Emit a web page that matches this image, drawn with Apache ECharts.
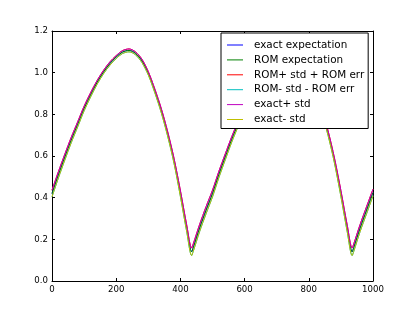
<!DOCTYPE html>
<html>
<head>
<meta charset="utf-8">
<script src="https://cdn.jsdelivr.net/npm/echarts@6/dist/echarts.min.js"></script>
<style>
html,body{margin:0;padding:0;background:#fff;}
#chart{width:415px;height:312px;}
</style>
</head>
<body>
<div id="chart"></div>
<script>
// ---- data ----
const xValues = [0,20,40,60,80,100,120,140,160,180,200,220,240,260,280,300,320,340,360,380,400,420,435,440,460,480,
                 500,520,540,560,580,600,620,640,660,680,700,720,740,760,780,800,820,840,860,880,900,920,935,940,960,980,1000];
const exactMean = [0.420,0.510,0.595,0.677,0.752,0.828,0.893,0.952,1.002,1.043,1.075,1.099,1.107,1.093,1.057,0.997,0.914,0.820,0.708,0.578,0.420,0.250,0.140,0.160,0.255,0.340,
                   0.420,0.512,0.597,0.680,0.755,0.828,0.893,0.951,1.001,1.042,1.074,1.098,1.107,1.094,1.058,0.996,0.914,0.818,0.710,0.578,0.420,0.250,0.140,0.160,0.255,0.340,0.425];
const romMean = [0.420,0.510,0.595,0.677,0.752,0.828,0.893,0.952,1.002,1.043,1.075,1.099,1.107,1.093,1.057,0.997,0.914,0.820,0.708,0.578,0.420,0.250,0.140,0.160,0.255,0.340,
                 0.420,0.512,0.597,0.680,0.755,0.828,0.893,0.951,1.001,1.042,1.074,1.098,1.107,1.094,1.058,0.996,0.914,0.818,0.710,0.578,0.420,0.250,0.140,0.160,0.255,0.340,0.425];
const stdValues = [0.016,0.015,0.014,0.013,0.012,0.011,0.010,0.009,0.008,0.008,0.007,0.007,0.007,0.007,0.008,0.008,0.009,0.010,0.011,0.012,0.014,0.016,0.018,0.018,0.017,0.017,
                   0.016,0.015,0.014,0.013,0.012,0.011,0.010,0.009,0.008,0.008,0.007,0.007,0.007,0.007,0.008,0.008,0.009,0.010,0.011,0.012,0.014,0.016,0.018,0.018,0.017,0.017,0.016];
const romErr = [0.000];
const xTicks = [0, 1000, 200];
const yTicks = [0, 1.2, 0.2];
const seriesNames = ['exact expectation','ROM expectation','ROM+ std + ROM err','ROM- std - ROM err','exact+ std','exact- std'];
const seriesColors = ['#0000ff','#008000','#ff0000','#00bfbf','#bf00bf','#bfbf00'];

// ---- build series ----
const err = romErr[0];
const curves = [
  exactMean,
  romMean,
  romMean.map((v,i)=>v + stdValues[i] + err),
  romMean.map((v,i)=>v - stdValues[i] - err),
  exactMean.map((v,i)=>v + stdValues[i]),
  exactMean.map((v,i)=>v - stdValues[i])
];

const font = 'DejaVu Sans';
const tickFs = 8.6;
function axisCommon(pos, showLabel, isY){
  return {
    type:'value', position: pos,
    min: isY ? yTicks[0] : xTicks[0],
    max: isY ? yTicks[1] : xTicks[1],
    interval: isY ? yTicks[2] : xTicks[2],
    axisLine:{show:true, onZero:false, lineStyle:{color:'#000', width:1}},
    axisTick:{show:true, inside:true, length:3, lineStyle:{color:'#000', width:1}},
    splitLine:{show:false},
    axisLabel:{show:showLabel, color:'#000', fontFamily:font, fontSize:tickFs, margin:4,
      formatter: isY ? (v)=>v.toFixed(1) : (v)=>String(v)}
  };
}

const chart = echarts.init(document.getElementById('chart'), null, {renderer:'canvas'});
chart.setOption({
  animation:false,
  backgroundColor:'#fff',
  grid:{left:52, top:31, right:42, bottom:31, show:false},
  xAxis:[axisCommon('bottom', true, false), axisCommon('top', false, false)],
  yAxis:[axisCommon('left', true, true), axisCommon('right', false, true)],
  legend:{
    show:true, orient:'vertical', left:221, top:33, align:'left', z:50,
    data: seriesNames.map(n=>({name:n, icon:'rect'})),
    itemWidth:16, itemHeight:1, itemGap:2.9,
    padding:[6,4,3,6],
    backgroundColor:'#fff', borderColor:'#000', borderWidth:1, borderRadius:0,
    textStyle:{fontFamily:font, fontSize:10.4, color:'#000', lineHeight:12, padding:[0,0,0,6]}
  },
  series: curves.map((c,k)=>({
    name: seriesNames[k], type:'line', xAxisIndex:0, yAxisIndex:0,
    data: xValues.map((x,i)=>[x, c[i]]),
    showSymbol:false, symbol:'none', smooth:0.3,
    color: seriesColors[k],
    lineStyle:{color:seriesColors[k], width:1},
    z: 2
  }))
});
</script>
</body>
</html>
